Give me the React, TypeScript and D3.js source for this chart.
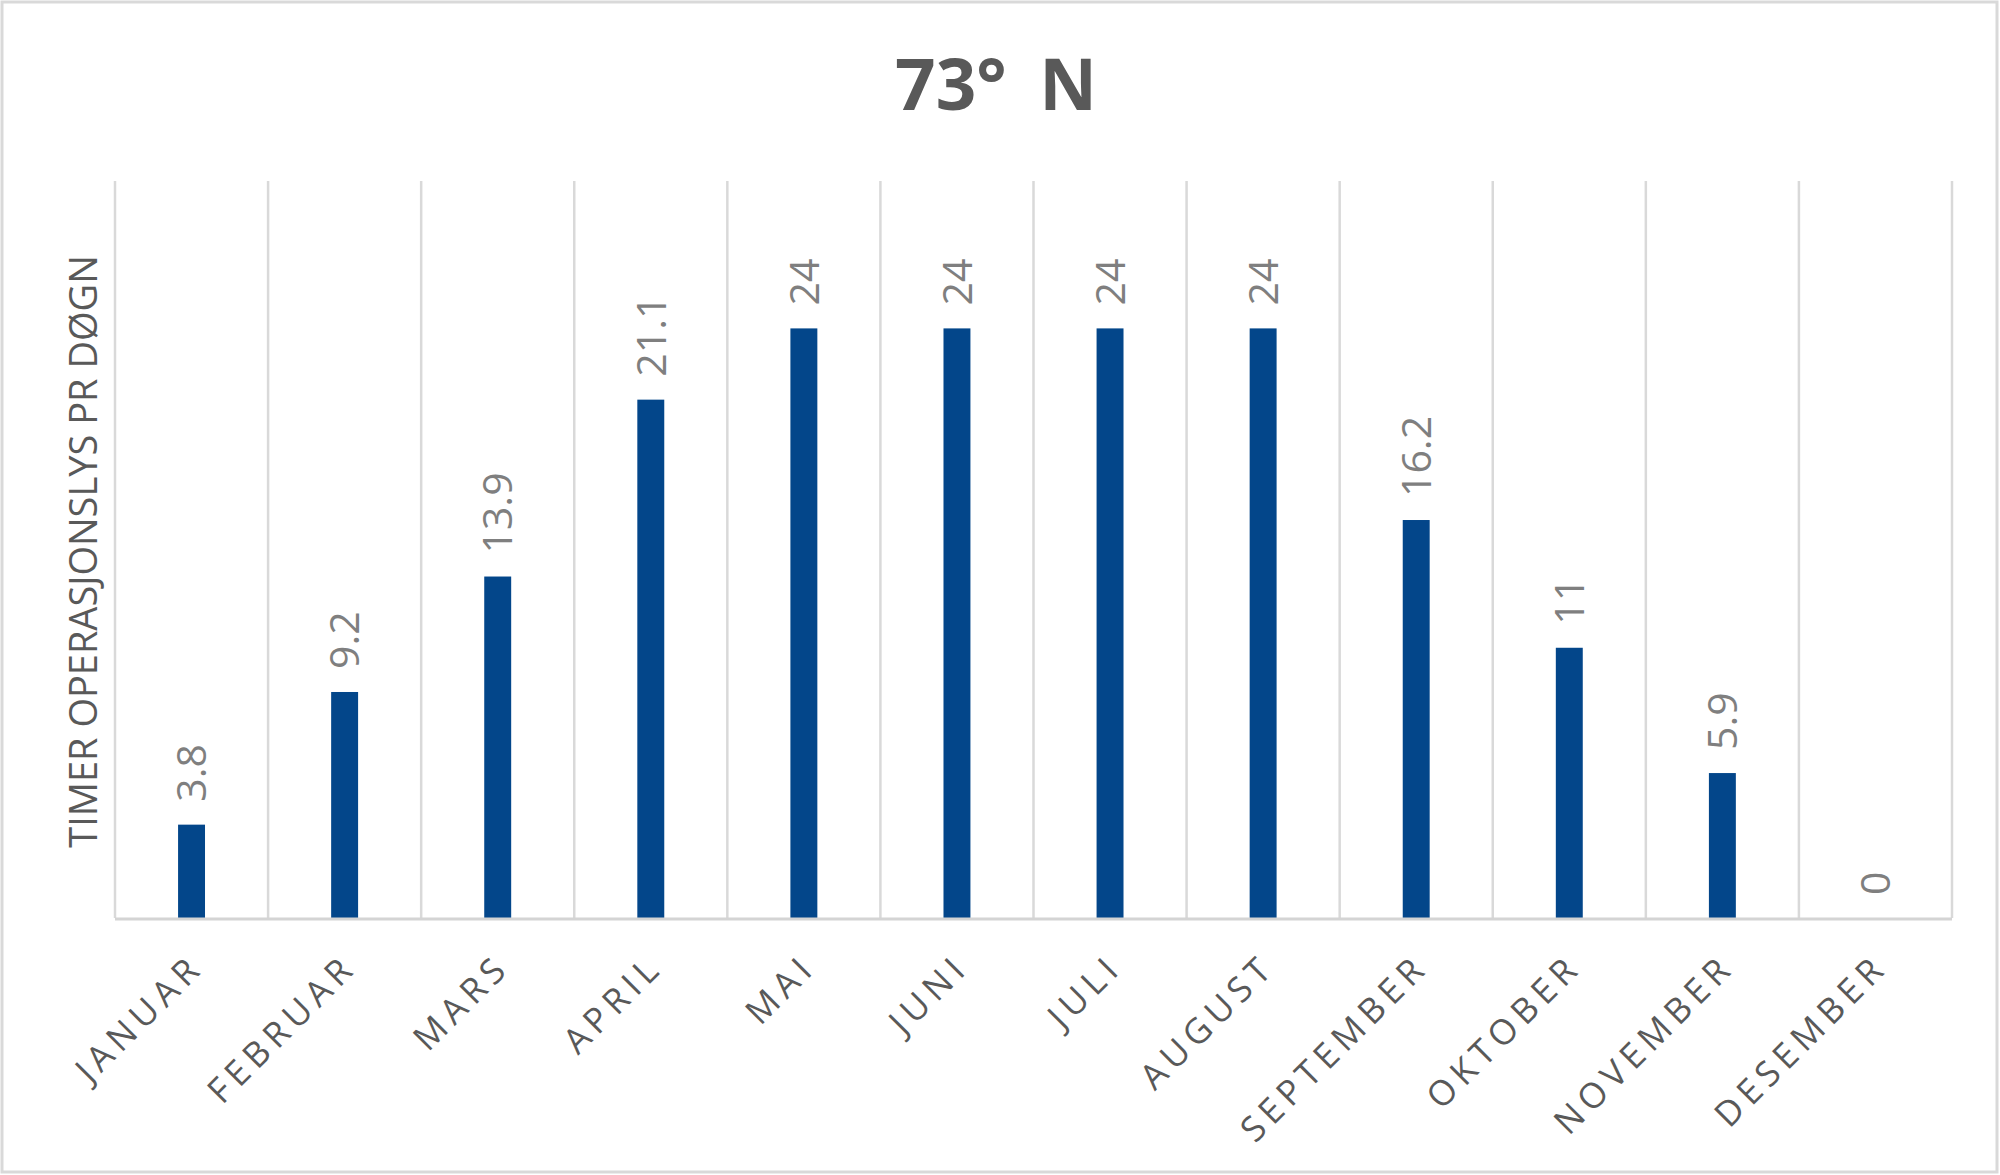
import { useEffect, useRef } from "react";
import * as d3 from "d3";

const months = [
    "JANUAR", "FEBRUAR", "MARS", "APRIL", "MAI", "JUNI",
    "JULI", "AUGUST", "SEPTEMBER", "OKTOBER", "NOVEMBER", "DESEMBER",
];
const hours = [3.8, 9.2, 13.9, 21.1, 24, 24, 24, 24, 16.2, 11, 5.9, 0];
const yDomain = [0, 30];
const chartTitle = "73° N";
const yTitle = "TIMER OPERASJONSLYS PR DØGN";

const W = 2000;
const H = 1175;

const App = () => {
    const svgRef = useRef<SVGSVGElement | null>(null);

    useEffect(() => {
        const margin = { top: 181, right: 48, bottom: 257, left: 115 };
        const font = "'Open Sans', 'Noto Sans', sans-serif";

        const svg = d3.select(svgRef.current).attr("width", W).attr("height", H);
        svg.selectAll("*").remove();

        // background + outer border
        svg.append("rect")
            .attr("x", 2).attr("y", 2)
            .attr("width", W - 5).attr("height", H - 5)
            .attr("fill", "#fff")
            .attr("stroke", "#d9d9d9")
            .attr("stroke-width", 3);

        const x = d3.scaleBand<string>()
            .domain(months)
            .range([margin.left, W - margin.right])
            .padding(0);

        const y = d3.scaleLinear()
            .domain(yDomain)
            .range([H - margin.bottom, margin.top]);

        const barW = x.bandwidth() * 0.176;

        // vertical gridlines between categories
        const edges = months.map((m) => x(m) as number).concat([W - margin.right]);
        svg.append("g")
            .selectAll("line")
            .data(edges)
            .enter()
            .append("line")
            .attr("x1", (d) => d).attr("x2", (d) => d)
            .attr("y1", y(yDomain[1])).attr("y2", y(0))
            .attr("stroke", "#d9d9d9")
            .attr("stroke-width", 2.5);

        // bars
        svg.append("g")
            .selectAll("rect")
            .data(hours)
            .enter()
            .append("rect")
            .attr("x", (_, i) => (x(months[i]) as number) + x.bandwidth() / 2 - barW / 2)
            .attr("y", (d) => y(d))
            .attr("width", barW)
            .attr("height", (d) => y(0) - y(d))
            .attr("fill", "#03468a");

        // category axis line
        svg.append("line")
            .attr("x1", margin.left).attr("x2", W - margin.right)
            .attr("y1", y(0) + 1).attr("y2", y(0) + 1)
            .attr("stroke", "#d4d4d4")
            .attr("stroke-width", 3);

        // value labels, rotated
        svg.append("g")
            .selectAll("text")
            .data(hours)
            .enter()
            .append("text")
            .attr("transform", (d, i) => {
                const cx = (x(months[i]) as number) + x.bandwidth() / 2;
                return `translate(${cx},${y(d) - 23}) rotate(-90)`;
            })
            .attr("dy", "0.36em")
            .attr("text-anchor", "start")
            .attr("font-family", font)
            .attr("font-size", 41)
            .attr("fill", "#7f7f7f")
            .text((d) => String(d));

        // month labels, rotated -45
        svg.append("g")
            .selectAll("text")
            .data(months)
            .enter()
            .append("text")
            .attr("transform", (d) => {
                const cx = (x(d) as number) + x.bandwidth() / 2;
                return `translate(${cx + 14},${969}) rotate(-45)`;
            })
            .attr("text-anchor", "end")
            .attr("font-family", font)
            .attr("font-size", 35)
            .attr("letter-spacing", 6)
            .attr("fill", "#595959")
            .text((d) => d);

        // y axis title
        svg.append("text")
            .attr("transform", `translate(83,${(y(0) + y(yDomain[1])) / 2 + 2}) rotate(-90)`)
            .attr("dy", "0.36em")
            .attr("text-anchor", "middle")
            .attr("font-family", font)
            .attr("font-size", 38)
            .attr("fill", "#595959")
            .text(yTitle);

        // chart title
        svg.append("text")
            .attr("x", W / 2 - 4)
            .attr("y", 110)
            .attr("text-anchor", "middle")
            .attr("font-family", font)
            .attr("font-weight", "bold")
            .attr("font-size", 71)
            .attr("word-spacing", 14)
            .attr("fill", "#595959")
            .text(chartTitle);

        return () => {
            svg.selectAll("*").remove();
        };
    }, []);

    return <svg ref={svgRef} style={{ position: "absolute", left: 0, top: 0 }}></svg>;
};

export default App;
